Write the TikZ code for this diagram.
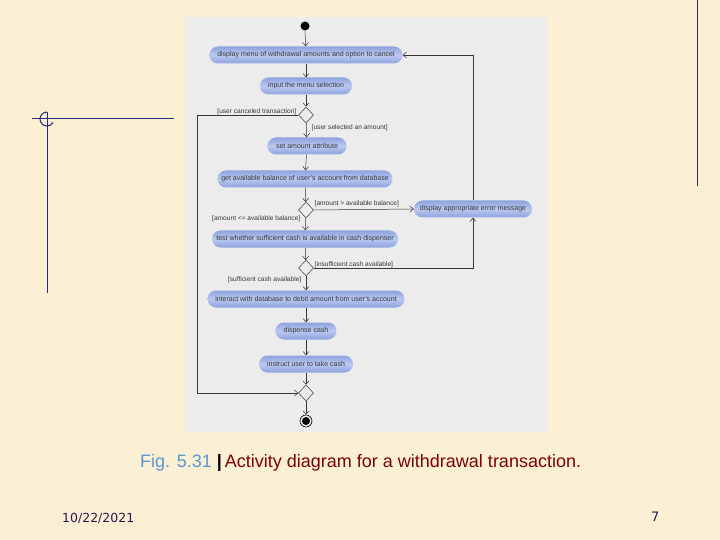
\documentclass[tikz,border=0pt]{standalone}
\usepackage{fontspec}
\setmainfont{Liberation Sans}
\newfontfamily\footfont{DejaVu Sans}
\usepackage{xcolor}
\usepackage{tikz}
\usetikzlibrary{calc,arrows.meta,positioning,shapes.geometric}
\definecolor{atmParchment}{RGB}{251,240,212}
\definecolor{atmPanel}{RGB}{236,236,236}
\definecolor{atmBlue}{RGB}{142,163,222}
\definecolor{atmBlueLight}{RGB}{186,200,240}
\definecolor{atmGray}{RGB}{55,55,55}
\definecolor{atmNavy}{RGB}{40,40,130}
\definecolor{atmRed}{RGB}{128,0,0}
\definecolor{atmCaption}{RGB}{90,150,210}
\definecolor{atmDate}{RGB}{50,20,80}

\tikzset{
    action/.style={rounded corners=8.5pt, top color=atmBlue, bottom color=atmBlue,
        middle color=atmBlueLight, minimum height=17pt, inner sep=1pt,
        font=\fontsize{7}{8}\selectfont, text=atmGray},
    choice/.style={diamond, draw=atmGray, line width=0.5pt, minimum width=15pt,
        minimum height=16pt, inner sep=0pt, fill=atmPanel},
    flow/.style={draw=atmGray, line width=0.5pt, -{Straight Barb[length=3.5pt,width=6pt]}},
    guard/.style={font=\fontsize{6.6}{7.6}\selectfont, text=atmGray, inner sep=0.5pt},
    deco/.style={atmNavy, line width=1pt}
}

\begin{document}
\begin{tikzpicture}[x=1pt,y=-1pt]

    % Page
    \fill[atmParchment] (0,0) rectangle (720,540);
    \useasboundingbox (0,0) rectangle (720,540);
    \fill[atmPanel] (185,17) rectangle (547,432);

    % Slide decorations
    \draw[deco] (32,119) -- (174,119);
    \draw[deco] (47,112) -- (47,293);
    \draw[deco] (47,112) arc[start angle=90, end angle=330, radius=7pt];
    \draw[deco] (697,0) -- (697,186);

    % Activity nodes
    \fill (305,26) circle (4.5pt) coordinate (start);
    \node[action, minimum width=193pt] (menu) at (306,55) {display menu of withdrawal amounts and option to cancel};
    \node[action, minimum width=92pt] (input) at (306,86) {input the menu selection};
    \node[choice] (cancel) at (306,115) {};
    \node[action, minimum width=79pt] (setamt) at (307,146) {set amount attribute};
    \node[action, minimum width=175pt] (balance) at (305,179) {get available balance of user's account from database};
    \node[choice] (enough) at (306,210) {};
    \node[action, minimum width=118pt] (error) at (473,209) {display appropriate error message};
    \node[action, minimum width=186pt] (cashtest) at (305,239) {test whether sufficient cash is available in cash dispenser};
    \node[choice] (cashok) at (306,268) {};
    \node[action, minimum width=197pt] (debit) at (306,299) {interact with database to debit amount from user's account};
    \node[action, minimum width=61pt] (dispense) at (306,331) {dispense cash};
    \node[action, minimum width=94pt] (takecash) at (306,364) {instruct user to take cash};
    \node[choice] (merge) at (306,393) {};
    \node[circle, draw=black, line width=0.6pt, minimum size=12pt, inner sep=0pt] (finish) at (306,421) {};
    \fill (finish) circle (4pt);
    \coordinate (loopL) at (197,115);

    % Connectors
    \draw[flow] (start) ++(0,4.5) -- (menu);
    \draw[flow] (menu) -- (input);
    \draw[flow] (input) -- (cancel);
    \draw[flow] (cancel) -- (setamt);
    \draw[flow] (setamt) -- (balance);
    \draw[flow] (balance) -- (enough);
    \draw[flow] (enough) -- (cashtest);
    \draw[flow] (enough.east) -- (error.west);
    \draw[flow] (cashtest) -- (cashok);
    \draw[flow] (cashok) -- (debit);
    \draw[flow] (cashok.east) -| (error.south);
    \draw[flow] (error.north) |- (menu.east);
    \draw[flow] (debit) -- (dispense);
    \draw[flow] (dispense) -- (takecash);
    \draw[flow] (takecash) -- (merge);
    \draw[flow] (merge) -- (finish);
    \draw[flow] (cancel.west) -- (loopL) |- (merge.west);

    % Guards
    \node[guard, anchor=east] (gcancel) at (297,112) {[user canceled transaction]};
    \node[guard, anchor=west] (gselect) at (311,128) {[user selected an amount]};
    \node[guard, anchor=west] (gover) at (314,204) {[amount > available balance]};
    \node[guard, anchor=east] (gunder) at (301,219) {[amount <= available balance]};
    \node[guard, anchor=west] (gnocash) at (314,265) {[insufficient cash available]};
    \node[guard, anchor=east] (gcash) at (302,280) {[sufficient cash available]};

    % Caption and footer
    \node[anchor=base west, inner sep=0pt, font=\fontsize{18}{21}\selectfont] (caption) at (140,467)
        {\textcolor{atmCaption}{Fig. 5.31} \textbf{|}\,\textcolor{atmRed}{Activity diagram for a withdrawal transaction.}};
    \node[anchor=base west, inner sep=0pt, text=atmDate, font=\footfont\fontsize{12.5}{15}\selectfont] (date) at (62,522) {10/22/2021};
    \node[anchor=base west, inner sep=0pt, text=atmDate, font=\footfont\fontsize{13}{15}\selectfont] (page) at (651,521) {7};

\end{tikzpicture}
\end{document}
